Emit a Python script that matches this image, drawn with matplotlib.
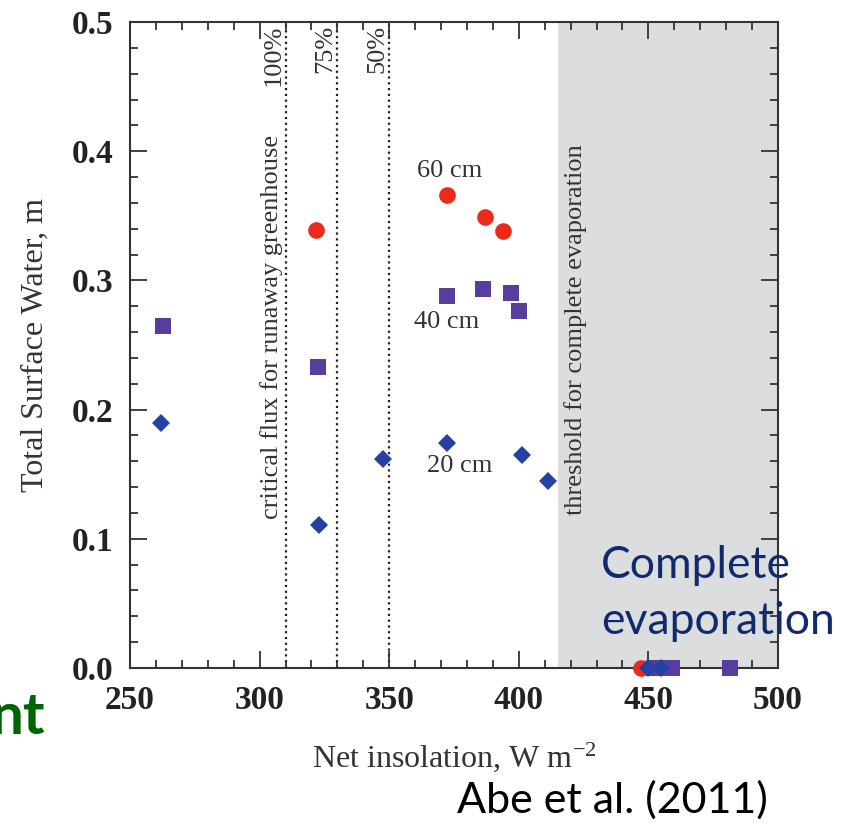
import matplotlib.pyplot as plt
from matplotlib.ticker import MultipleLocator

# data (Abe et al. 2011)
x_60cm = [321.8, 372.4, 387.1, 394.0, 447.0]
y_60cm = [0.339, 0.366, 0.349, 0.338, 0.0]

x_40cm = [262.6, 322.4, 372.4, 386.3, 396.9, 400.0, 452.0, 456.0, 459.0, 481.3]
y_40cm = [0.265, 0.233, 0.288, 0.293, 0.290, 0.276, 0.0, 0.0, 0.0, 0.0]

x_20cm = [262.0, 322.9, 347.5, 372.2, 401.2, 411.4, 450.0, 455.0]
y_20cm = [0.190, 0.111, 0.162, 0.174, 0.165, 0.145, 0.0, 0.0]

flux_lines = [310, 330, 350]
flux_labels = ['100%', '75%', '50%']
threshold = 415

serif = 'Liberation Serif'
plt.rcParams['mathtext.fontset'] = 'stix'
fig = plt.figure(figsize=(8.42, 8.24), dpi=100)
ax = fig.add_axes([0.1544, 0.1893, 0.7696, 0.784])

ax.axvspan(threshold, 500, color='#dcddde', zorder=0, lw=0)
for xv in flux_lines:
    ax.axvline(xv, color='#222222', lw=1.6, ls=(0, (1, 1.6)), zorder=1)

ax.plot(x_60cm, y_60cm, 'o', color='#ec2a1c', ms=12, mew=0, zorder=3, clip_on=False)
ax.plot(x_40cm, y_40cm, 's', color='#573d9e', ms=11.5, mew=0, zorder=3, clip_on=False)
ax.plot(x_20cm, y_20cm, 'D', color='#2342a3', ms=9, mew=0, zorder=4, clip_on=False)

ax.text(373.5, 0.385, '60 cm', fontsize=19, family=serif, color='#333333', ha='center', va='center')
ax.text(372.3, 0.268, '40 cm', fontsize=19, family=serif, color='#333333', ha='center', va='center')
ax.text(377.3, 0.156, '20 cm', fontsize=19, family=serif, color='#333333', ha='center', va='center')

ax.text(304.5, 0.264, 'critical flux for runaway greenhouse', rotation=90, fontsize=19,
        family=serif, color='#333333', ha='center', va='center')
for xv, lab in zip(flux_lines, flux_labels):
    ax.text(xv - 4.5, 0.498, lab, rotation=90, fontsize=19, family=serif,
            color='#333333', ha='center', va='top')
ax.text(421.7, 0.262, 'threshold for complete evaporation', rotation=90, fontsize=19,
        family=serif, color='#333333', ha='center', va='center')

ax.set_xlim(250, 500)
ax.set_ylim(0, 0.5)
ax.xaxis.set_major_locator(MultipleLocator(50))
ax.xaxis.set_minor_locator(MultipleLocator(10))
ax.yaxis.set_major_locator(MultipleLocator(0.1))
ax.yaxis.set_minor_locator(MultipleLocator(0.02))
ax.yaxis.set_major_formatter(plt.FormatStrFormatter('%.1f'))
ax.tick_params(which='both', direction='in', top=True, right=True, color='#333333', width=1.3)
ax.tick_params(which='major', length=12, labelsize=24)
ax.tick_params(axis='x', which='major', pad=12)
ax.tick_params(axis='y', which='major', pad=12)
ax.tick_params(which='minor', length=6)
for lab in ax.get_xticklabels() + ax.get_yticklabels():
    lab.set_family(serif)
    lab.set_fontweight('bold')
    lab.set_color('#222222')
for sp in ax.spines.values():
    sp.set_color('#333333')
    sp.set_linewidth(1.5)

ax.set_xlabel('Net insolation, W m$^{\\mathregular{-2}}$', fontsize=23, family=serif,
              color='#333333', labelpad=18)
ax.set_ylabel('Total Surface Water, m', fontsize=23, family=serif, color='#333333', labelpad=16)

fig.text(601 / 842, 1 - 565 / 824, 'Complete', fontsize=32, family='Lato', color='#0f2b6e',
         ha='left', va='center')
fig.text(601 / 842, 1 - 622 / 824, 'evaporation', fontsize=32, family='Lato', color='#0f2b6e',
         ha='left', va='center')
fig.text(457 / 842, 1 - 800 / 824, 'Abe et al. (2011)', fontsize=31, family='Lato', color='black',
         ha='left', va='center')
fig.text(45 / 842, 1 - 718 / 824, 'nt', fontsize=42, family='Lato', fontweight='bold',
         color='#006400', ha='right', va='center')

plt.savefig('out.png')
